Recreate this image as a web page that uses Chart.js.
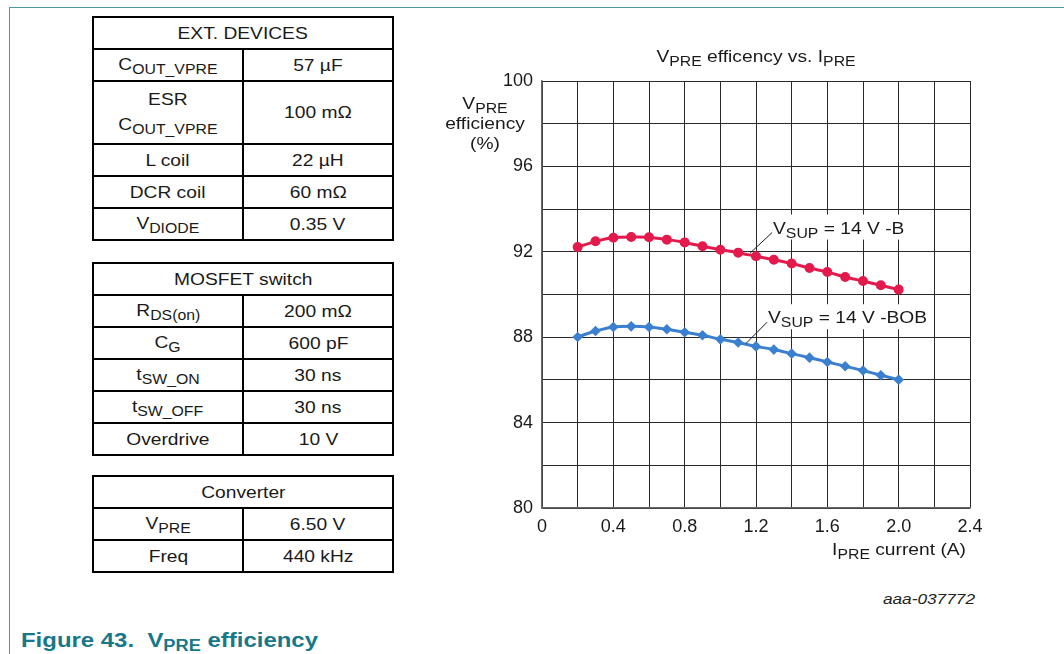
<!DOCTYPE html>
<html>
<head>
<meta charset="utf-8">
<script src="https://cdn.jsdelivr.net/npm/chart.js@4/dist/chart.umd.min.js"></script>
<style>
  body { margin: 0; background: #fff; width: 1064px; height: 654px; overflow: hidden; position: relative;
         font-family: 'Liberation Sans', Arial, sans-serif; color: #1a1a1a; }
  .frame-top { position: absolute; left: 9px; top: 7px; width: 1055px; height: 1px; background: #4a98a6; }
  .frame-left { position: absolute; left: 9px; top: 7px; width: 1px; height: 647px; background: #4a98a6; }
  table { position: absolute; left: 92px; width: 302px; border-collapse: collapse; table-layout: fixed; font-size: 17px; }
  td { border: 2px solid #000; text-align: center; padding: 0; height: 30px; line-height: 25px; }
  td.tall { height: 61px; }
  .w { display: inline-block; transform: scaleX(1.13); transform-origin: center; }
  .s { font-size: 14px; position: relative; top: 4px; }
  #wrap { position: absolute; left: 400px; top: 30px; width: 600px; height: 540px; }
  .code { position: absolute; left: 800px; top: 590px; width: 175px; text-align: right; font-style: italic; font-size: 15px; color: #222;
          transform: scaleX(1.15); transform-origin: right; }
  .caption { position: absolute; left: 21px; top: 628px; font-weight: bold; font-size: 21px; color: #17788a;
             transform: scaleX(1.14); transform-origin: left; white-space: nowrap; }
  .caption .s { font-size: 16px; top: 4px; }
</style>
</head>
<body>
<div class="frame-top"></div>
<div class="frame-left"></div>
<div id="tables"></div>
<div id="wrap"><canvas id="effChart" width="600" height="540"></canvas></div>
<div class="code">aaa-037772</div>
<div class="caption">Figure 43.&nbsp; V<span class="s">PRE</span> efficiency</div>
<script>
// load current, A
const currents = [0.2, 0.3, 0.4, 0.5, 0.6, 0.7, 0.8, 0.9, 1.0, 1.1, 1.2, 1.3, 1.4, 1.5, 1.6, 1.7, 1.8, 1.9, 2.0];
// efficiency, %
const effB   = [92.22, 92.49, 92.66, 92.69, 92.68, 92.57, 92.44, 92.26, 92.10, 91.96, 91.79, 91.63, 91.45, 91.24, 91.05, 90.82, 90.63, 90.43, 90.23];
const effBOB = [88.01, 88.29, 88.48, 88.51, 88.48, 88.37, 88.23, 88.09, 87.90, 87.75, 87.57, 87.42, 87.23, 87.04, 86.84, 86.64, 86.44, 86.22, 86.01];

const xTicks = [0, 0.4, 0.8, 1.2, 1.6, 2.0, 2.4];
const yTicks = [80, 84, 88, 92, 96, 100];

// curve labels: text parts, leader line start (on curve) and end, in data units
const curveLabels = [
  { parts: [['V'], ['SUP', 1], [' = 14 V -B']], from: [1.166, 91.93], to: [1.29, 92.90] },
  { parts: [['V'], ['SUP', 1], [' = 14 V -BOB']], from: [1.144, 87.71], to: [1.262, 88.70] }
];

// parameter tables: [label parts, value]
const extDevices = [
  [[['C'], ['OUT_VPRE', 1]], '57 µF'],
  [[['ESR'], ['<br>'], ['C'], ['OUT_VPRE', 1]], '100 mΩ'],
  [[['L coil']], '22 µH'],
  [[['DCR coil']], '60 mΩ'],
  [[['V'], ['DIODE', 1]], '0.35 V']
];
const mosfet = [
  [[['R'], ['DS(on)', 1]], '200 mΩ'],
  [[['C'], ['G', 1]], '600 pF'],
  [[['t'], ['SW_ON', 1]], '30 ns'],
  [[['t'], ['SW_OFF', 1]], '30 ns'],
  [[['Overdrive']], '10 V']
];
const converter = [
  [[['V'], ['PRE', 1]], '6.50 V'],
  [[['Freq']], '440 kHz']
];

// text in the document is set slightly wide
const STRETCH = 1.13;

function partsHtml(parts) {
  return '<span class="w">' +
    parts.map(p => p[0] === '<br>' ? '<br>' : (p[1] ? `<span class="s">${p[0]}</span>` : p[0])).join('') +
    '</span>';
}

function buildTable(title, rows, top) {
  const t = document.createElement('table');
  t.style.top = top + 'px';
  let html = `<colgroup><col style="width:150px"><col></colgroup><tr><td colspan="2">${partsHtml([[title]])}</td></tr>`;
  rows.forEach(r => {
    const tall = r[0].some(p => p[0] === '<br>') ? ' class="tall"' : '';
    html += `<tr><td${tall}>${partsHtml(r[0])}</td><td${tall}>${partsHtml([[r[1]]])}</td></tr>`;
  });
  t.innerHTML = html;
  document.getElementById('tables').appendChild(t);
}

buildTable('EXT. DEVICES', extDevices, 16);
buildTable('MOSFET switch', mosfet, 262);
buildTable('Converter', converter, 475);

const FONT = "'Liberation Sans', Arial, sans-serif";

function richWidth(ctx, parts, size) {
  const sub = Math.round(size * 0.82);
  let w = 0;
  parts.forEach(p => {
    ctx.font = `${p[1] ? sub : size}px ${FONT}`;
    w += ctx.measureText(p[0]).width;
  });
  return w * STRETCH;
}

// draws text with subscript parts
function drawRich(ctx, parts, x, y, align, size) {
  const sub = Math.round(size * 0.82);
  const w = richWidth(ctx, parts, size);
  let cx = align === 'center' ? x - w / 2 : align === 'right' ? x - w : x;
  ctx.save();
  ctx.translate(cx, y);
  ctx.scale(STRETCH, 1);
  ctx.textAlign = 'left';
  ctx.textBaseline = 'alphabetic';
  let px = 0;
  parts.forEach(p => {
    ctx.font = `${p[1] ? sub : size}px ${FONT}`;
    ctx.fillText(p[0], px, p[1] ? 4 : 0);
    px += ctx.measureText(p[0]).width;
  });
  ctx.restore();
}

const textPlugin = {
  id: 'texts',
  afterDatasetsDraw(chart) {
    const ctx = chart.ctx;
    const xs = chart.scales.x, ys = chart.scales.y;
    const area = chart.chartArea;
    ctx.save();
    ctx.fillStyle = '#1a1a1a';
    // title
    drawRich(ctx, [['V'], ['PRE', 1], [' efficency vs. I'], ['PRE', 1]], (area.left + area.right) / 2, 32, 'center', 17);
    // y axis title
    drawRich(ctx, [['V'], ['PRE', 1]], 85, 79, 'center', 17);
    drawRich(ctx, [['efficiency']], 85, 99, 'center', 17);
    drawRich(ctx, [['(%)']], 85, 119, 'center', 17);
    // x axis title
    drawRich(ctx, [['I'], ['PRE', 1], [' current (A)']], area.right - 4, 525, 'right', 17);
    // curve labels with leader lines
    curveLabels.forEach(l => {
      const x0 = xs.getPixelForValue(l.from[0]), y0 = ys.getPixelForValue(l.from[1]);
      const x1 = xs.getPixelForValue(l.to[0]), y1 = ys.getPixelForValue(l.to[1]);
      const w = richWidth(ctx, l.parts, 17);
      ctx.fillStyle = '#fff';
      ctx.fillRect(x1 - 2, y1 - 18, w + 6, 25);
      ctx.strokeStyle = '#1a1a1a';
      ctx.lineWidth = 1;
      ctx.beginPath();
      ctx.moveTo(x0, y0);
      ctx.lineTo(x1, y1);
      ctx.stroke();
      ctx.fillStyle = '#1a1a1a';
      drawRich(ctx, l.parts, x1 + 1, y1 + 1, 'left', 17);
    });
    ctx.restore();
  }
};

new Chart(document.getElementById('effChart'), {
  type: 'line',
  data: {
    datasets: [
      {
        label: 'VSUP = 14 V -B',
        data: currents.map((c, i) => ({ x: c, y: effB[i] })),
        borderColor: '#e31b4d',
        backgroundColor: '#e31b4d',
        borderWidth: 3,
        pointRadius: 3.5,
        pointStyle: 'circle',
        tension: 0.2
      },
      {
        label: 'VSUP = 14 V -BOB',
        data: currents.map((c, i) => ({ x: c, y: effBOB[i] })),
        borderColor: '#3b80d0',
        backgroundColor: '#3b80d0',
        borderWidth: 3,
        pointRadius: 3.2,
        pointStyle: 'rectRot',
        tension: 0.2
      }
    ]
  },
  options: {
    responsive: false,
    animation: false,
    layout: { padding: { top: 51, right: 30, left: 0, bottom: 0 } },
    plugins: { legend: { display: false }, tooltip: { enabled: false } },
    scales: {
      x: {
        type: 'linear',
        min: 0,
        max: 2.4,
        afterFit: s => { s.height = 62; },
        afterBuildTicks: s => {
          s.ticks = [];
          for (let i = 0; i <= 12; i++) s.ticks.push({ value: i / 5 });
        },
        grid: { color: '#2a2a2a', lineWidth: 1, drawTicks: false },
        border: { color: '#666', width: 1.5 },
        ticks: {
          padding: 8,
          color: '#1a1a1a',
          font: { family: FONT, size: 18 },
          maxRotation: 0,
          autoSkip: false,
          callback: v => {
            const hit = xTicks.find(t => Math.abs(t - v) < 1e-6);
            if (hit === undefined) return '';
            return hit === 0 ? '0' : hit.toFixed(1);
          }
        }
      },
      y: {
        min: 80,
        max: 100,
        afterFit: s => { s.width = 142; },
        grid: { color: '#2a2a2a', lineWidth: 1, drawTicks: false },
        border: { color: '#666', width: 1.5 },
        ticks: {
          stepSize: 2,
          padding: 9,
          color: '#1a1a1a',
          font: { family: FONT, size: 18 },
          callback: v => yTicks.includes(v) ? String(v) : ''
        }
      }
    }
  },
  plugins: [textPlugin]
});
</script>
</body>
</html>
